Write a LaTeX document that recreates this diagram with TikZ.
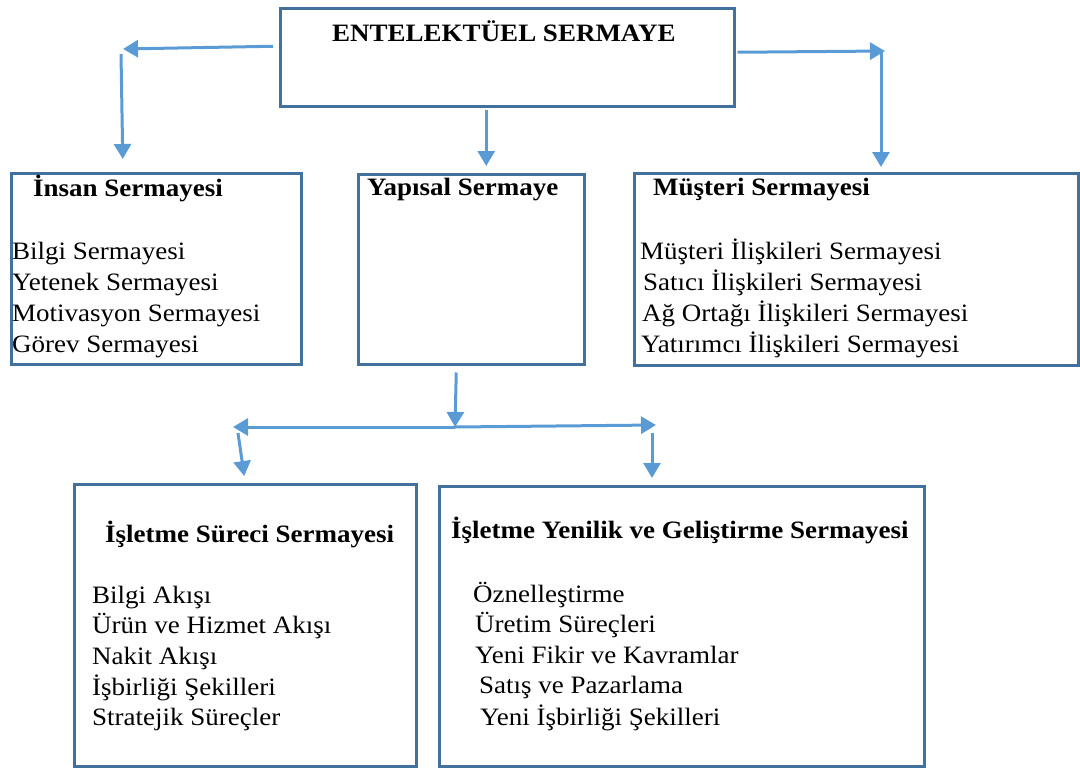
\documentclass[tikz,border=0pt]{standalone}
\usepackage{fontspec}
\setmainfont{Liberation Serif}[FakeStretch=1.08]
\usetikzlibrary{arrows.meta}
\definecolor{boxblue}{HTML}{41719C}
\definecolor{arrblue}{HTML}{5B9BD5}
\begin{document}
\begin{tikzpicture}[x=1pt,y=-1pt,
 box/.style={draw=boxblue, line width=2.5pt, anchor=north west, inner sep=0pt},
 txt/.style={anchor=base west, inner sep=0pt, font=\fontsize{25}{28}\selectfont},
 hd/.style={anchor=base west, inner sep=0pt, font=\fontsize{25}{28}\selectfont\bfseries},
 arr/.style={draw=arrblue, line width=3pt, -{Triangle[length=15pt,width=17pt]}}]
\useasboundingbox (0,0) rectangle (1080,769);
% boxes
\node[box, minimum width=454pt, minimum height=98pt] (top) at (279,7) {};
\node[box, minimum width=290pt, minimum height=191pt] (insan) at (10,172) {};
\node[box, minimum width=226pt, minimum height=190pt] (yapi) at (357,173) {};
\node[box, minimum width=444pt, minimum height=192pt] (must) at (633,172) {};
\node[box, minimum width=342pt, minimum height=282pt] (surec) at (73,483) {};
\node[box, minimum width=485pt, minimum height=280pt] (yenilik) at (438,485) {};
% texts
\node[hd] (t0) at (332,41) {ENTELEKTÜEL SERMAYE};
\node[hd] (h1) at (33,196) {İnsan Sermayesi};
\node[txt] (i1) at (12,259) {Bilgi Sermayesi};
\node[txt] (i2) at (12,290) {Yetenek Sermayesi};
\node[txt] (i3) at (12,321) {Motivasyon Sermayesi};
\node[txt] (i4) at (12,352) {Görev Sermayesi};
\node[hd] (h2) at (367,195) {Yapısal Sermaye};
\node[hd] (h3) at (653,195) {Müşteri Sermayesi};
\node[txt] (m1) at (640,259) {Müşteri İlişkileri Sermayesi};
\node[txt] (m2) at (643,290) {Satıcı İlişkileri Sermayesi};
\node[txt] (m3) at (642,321) {Ağ Ortağı İlişkileri Sermayesi};
\node[txt] (m4) at (641,352) {Yatırımcı İlişkileri Sermayesi};
\node[hd] (h4) at (105,542) {İşletme Süreci Sermayesi};
\node[txt] (s1) at (92,603) {Bilgi Akışı};
\node[txt] (s2) at (92,633) {Ürün ve Hizmet Akışı};
\node[txt] (s3) at (92,664) {Nakit Akışı};
\node[txt] (s4) at (92,695) {İşbirliği Şekilleri};
\node[txt] (s5) at (92,725) {Stratejik Süreçler};
\node[hd] (h5) at (451,538) {İşletme Yenilik ve Geliştirme Sermayesi};
\node[txt] (y1) at (473,602) {Öznelleştirme};
\node[txt] (y2) at (475,632) {Üretim Süreçleri};
\node[txt] (y3) at (475,663) {Yeni Fikir ve Kavramlar};
\node[txt] (y4) at (479,693) {Satış ve Pazarlama};
\node[txt] (y5) at (480,725) {Yeni İşbirliği Şekilleri};
% connectors
\coordinate (lc) at (123,49);
\draw[arr] ([xshift=-6pt,yshift=11pt]top.west) -- (lc);
\draw[arr, shorten >=13pt] ([xshift=-2pt,yshift=-5pt]lc) -- (lc |- insan.north);
\draw[arr, shorten >=7pt] ([xshift=-21pt,yshift=-2pt]top.south) -- ([xshift=15pt]yapi.north);
\coordinate (rc) at (885,51);
\draw[arr] ([xshift=2pt,yshift=5pt]top.east) -- (rc);
\draw[arr, shorten >=5pt] ([xshift=-4pt]rc) -- ([xshift=-4pt]rc |- must.north);
\coordinate (bj) at (455,427);
\coordinate (bl) at (233,427);
\coordinate (br) at (656,425);
\draw[arr] ([xshift=-15pt,yshift=-7pt]yapi.south) -- (bj);
\draw[arr] (bj) -- (bl);
\draw[arr] (bj) -- (br);
\draw[arr, shorten >=7pt] ([xshift=5pt,yshift=-6pt]bl) -- (surec.north);
\draw[arr, shorten >=7pt] ([xshift=-4pt,yshift=-8pt]br) -- ([xshift=-4pt]br |- yenilik.north);
\end{tikzpicture}
\end{document}
